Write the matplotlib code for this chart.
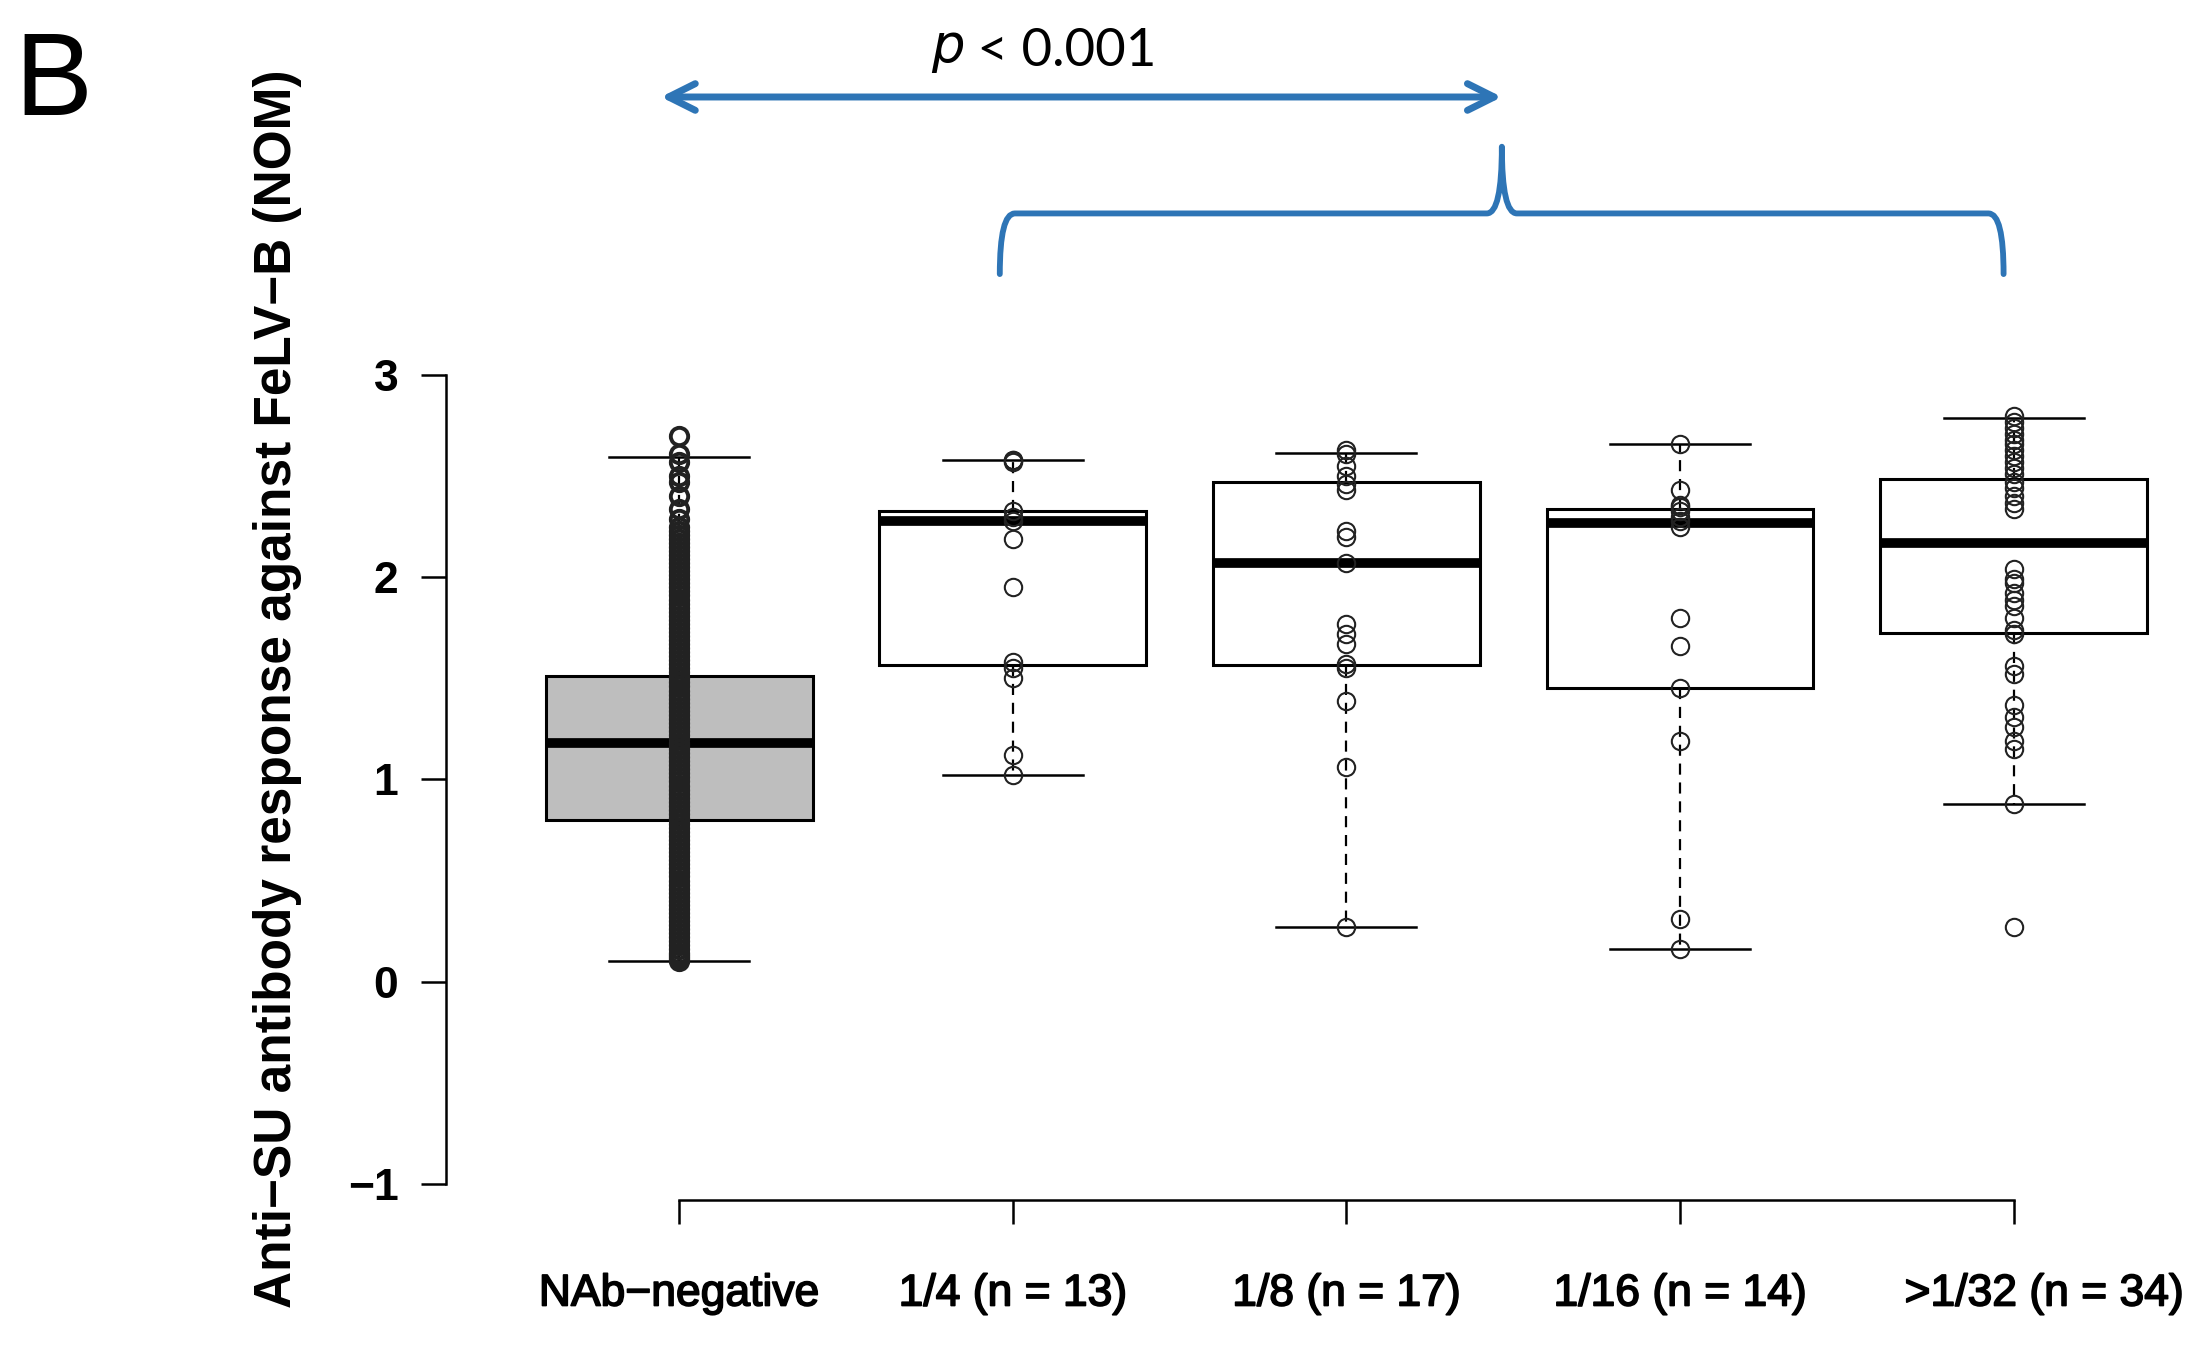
import matplotlib
matplotlib.use("Agg")
import matplotlib.pyplot as plt
import numpy as np
from matplotlib import font_manager
from matplotlib.path import Path
from matplotlib.patches import PathPatch, FancyArrowPatch
import matplotlib.patheffects as pe

# ---------------- data ----------------
categories = ["NAb\u2212negative", "1/4 (n = 13)", "1/8 (n = 17)", "1/16 (n = 14)", ">1/32 (n = 34)"]
positions = [1, 2, 3, 4, 5]

q1 = [0.80, 1.565, 1.567, 1.450, 1.722]
medians = [1.18, 2.278, 2.070, 2.270, 2.168]
q3 = [1.51, 2.330, 2.470, 2.340, 2.484]
whisk_lo = [0.10, 1.020, 0.270, 0.160, 0.877]
whisk_hi = [2.595, 2.580, 2.614, 2.658, 2.790]
box_fill = ["#bebebe", "white", "white", "white", "white"]

pts_neg = [2.70, 2.61, 2.57, 2.50, 2.47, 2.40, 2.34, 2.29, 2.25, 2.23, 2.21, 2.19,
           2.17, 2.15, 2.13, 2.11, 2.09, 2.07, 2.05, 2.03, 2.01, 1.99, 1.97, 1.95,
           1.93, 1.91, 1.89, 1.87, 1.85, 1.83, 1.81, 1.79, 1.77, 1.75, 1.73, 1.71,
           1.69, 1.67, 1.65, 1.63, 1.61, 1.59, 1.57, 1.55, 1.53, 1.51, 1.50, 1.48,
           1.46, 1.44, 1.42, 1.40, 1.38, 1.36, 1.34, 1.32, 1.30, 1.28, 1.26, 1.24,
           1.22, 1.20, 1.18, 1.17, 1.15, 1.13, 1.11, 1.09, 1.07, 1.05, 1.03, 1.01,
           0.99, 0.97, 0.95, 0.93, 0.91, 0.89, 0.87, 0.85, 0.83, 0.81, 0.80, 0.78,
           0.76, 0.74, 0.72, 0.70, 0.68, 0.66, 0.64, 0.62, 0.60, 0.58, 0.56, 0.54,
           0.52, 0.50, 0.48, 0.46, 0.44, 0.42, 0.40, 0.38, 0.36, 0.34, 0.32, 0.30,
           0.28, 0.26, 0.24, 0.22, 0.20, 0.18, 0.16, 0.14, 0.13, 0.12, 0.11, 0.10]
pts_4 = [2.58, 2.57, 2.58, 2.33, 2.30, 2.28, 2.19, 1.95, 1.58, 1.55, 1.50, 1.12, 1.02]
pts_8 = [2.63, 2.61, 2.55, 2.50, 2.46, 2.43, 2.23, 2.20, 2.07, 1.77, 1.72, 1.67,
         1.57, 1.55, 1.39, 1.06, 0.27]
pts_16 = [2.66, 2.43, 2.36, 2.35, 2.33, 2.30, 2.28, 2.25, 1.80, 1.66, 1.45, 1.19,
          0.31, 0.16]
pts_32 = [2.80, 2.77, 2.74, 2.71, 2.68, 2.66, 2.63, 2.60, 2.57, 2.54, 2.51, 2.47,
          2.44, 2.40, 2.37, 2.34, 2.04, 1.99, 1.97, 1.92, 1.89, 1.86, 1.80, 1.74,
          1.72, 1.56, 1.52, 1.37, 1.31, 1.26, 1.19, 1.15, 0.88, 0.27]
points = [pts_neg, pts_4, pts_8, pts_16, pts_32]
point_edge_w = [2.8, 1.5, 1.5, 1.5, 1.5]

yticks = [-1, 0, 1, 2, 3]
ylabel = "Anti\u2212SU antibody response against FeLV\u2212B (NOM)"
ptext_val = "< 0.001"
panel_label = "B"

# ---------------- fonts ----------------
def has_font(name):
    try:
        font_manager.findfont(font_manager.FontProperties(family=name),
                              fallback_to_default=False)
        return True
    except Exception:
        return False

base = "Liberation Sans"
calib = "Lato" if has_font("Lato") else "DejaVu Sans"

# ---------------- figure ----------------
W, H = 2205, 1345
fig = plt.figure(figsize=(W / 100, H / 100), dpi=100)

def px_x(p):
    return 679.2 + (p - 1) * 333.6

def px_y(v):
    return 981.6 - v * 202.15

xlim = (0.3, 5.7)
ylim = (-1.08, 3.16)
left = px_x(xlim[0]) / W
right = px_x(xlim[1]) / W
bottom = 1 - px_y(ylim[0]) / H
top = 1 - px_y(ylim[1]) / H
ax = fig.add_axes([left, bottom, right - left, top - bottom])
ax.set_xlim(*xlim)
ax.set_ylim(*ylim)

stats = []
for i in range(len(categories)):
    stats.append(dict(med=medians[i], q1=q1[i], q3=q3[i],
                      whislo=whisk_lo[i], whishi=whisk_hi[i], fliers=[]))

bp = ax.bxp(stats, positions=positions, widths=0.8, capwidths=0.42,
            patch_artist=True, showfliers=False,
            boxprops=dict(linewidth=2.2, edgecolor="black"),
            medianprops=dict(linewidth=7.0, color="black", solid_capstyle="butt"),
            whiskerprops=dict(linewidth=1.6, color="black", linestyle=(0, (5, 3.5))),
            capprops=dict(linewidth=1.8, color="black"),
            manage_ticks=False, zorder=2)
for patch, fc in zip(bp["boxes"], box_fill):
    patch.set_facecolor(fc)

for pos, vals, mew in zip(positions, points, point_edge_w):
    ax.plot([pos] * len(vals), vals, linestyle="none", marker="o",
            markersize=12.5, markerfacecolor="none", markeredgecolor="#222222",
            markeredgewidth=mew, zorder=3)

# axes styling (R-like detached axes)
for s in ["top", "right"]:
    ax.spines[s].set_visible(False)
ax.spines["left"].set_bounds(-1, 3)
ax.spines["bottom"].set_bounds(1, 5)
ax.spines["left"].set_linewidth(1.8)
ax.spines["bottom"].set_linewidth(1.8)
ax.set_yticks(yticks)
ax.set_yticklabels([("\u2212" + str(-t)) if t < 0 else str(t) for t in yticks],
                   fontfamily=base, fontweight="bold", fontsize=32)
ax.set_xticks(positions)
# last category label is drawn slightly right of its tick (as in the reference)
ax.set_xticklabels(categories[:-1] + [""], fontfamily=base, fontsize=32)
for lab in ax.get_xticklabels():
    lab.set_path_effects([pe.withStroke(linewidth=1.2, foreground="black")])
ax.tick_params(axis="y", length=18, width=1.8, pad=16, direction="out")
ax.tick_params(axis="x", length=17, width=1.8, pad=36, direction="out")
last = ax.annotate(categories[-1], xy=(positions[-1], 0),
                   xycoords=("data", "axes fraction"),
                   xytext=(22, -(17 + 36)), textcoords="offset points",
                   ha="center", va="top", fontfamily=base, fontsize=32,
                   annotation_clip=False)
last.set_path_effects([pe.withStroke(linewidth=1.2, foreground="black")])

# y label
fig.text(278 / W, 1 - 689 / H, ylabel, rotation=90, ha="center", va="center",
         fontfamily=base, fontweight="bold", fontsize=37)

# panel label
fig.text(14 / W, 1 - 115 / H, panel_label, ha="left", va="baseline",
         fontfamily=base, fontsize=84)

# ---------------- annotations ----------------
blue = "#2E75B6"
arrow = FancyArrowPatch((0.945, 4.376), (3.466, 4.376), arrowstyle="<->",
                        mutation_scale=48, linewidth=5, color=blue,
                        shrinkA=0, shrinkB=0, clip_on=False, zorder=5)
ax.add_patch(arrow)

ax.text(1.855, 4.60, r"$\it{p}$", ha="right", va="center", fontsize=38,
        fontfamily=calib, clip_on=False)
ax.text(1.855, 4.60, " " + ptext_val, ha="left", va="center", fontsize=38,
        fontfamily=calib, clip_on=False)

xl, xc, xr = 1.961, 3.466, 4.970
yb, yh, yt = 3.50, 3.80, 4.13
d = 0.045
verts = [(xl, yb), (xl, yh), (xl + d, yh),
         (xc - d, yh),
         (xc, yh), (xc, yt),
         (xc, yh), (xc + d, yh),
         (xr - d, yh),
         (xr, yh), (xr, yb)]
codes = [Path.MOVETO, Path.CURVE3, Path.CURVE3,
         Path.LINETO,
         Path.CURVE3, Path.CURVE3,
         Path.CURVE3, Path.CURVE3,
         Path.LINETO,
         Path.CURVE3, Path.CURVE3]
brace = PathPatch(Path(verts, codes), facecolor="none", edgecolor=blue,
                  linewidth=4.2, clip_on=False, zorder=5, capstyle="round",
                  joinstyle="round")
ax.add_patch(brace)

fig.savefig("out.png", dpi=100)
